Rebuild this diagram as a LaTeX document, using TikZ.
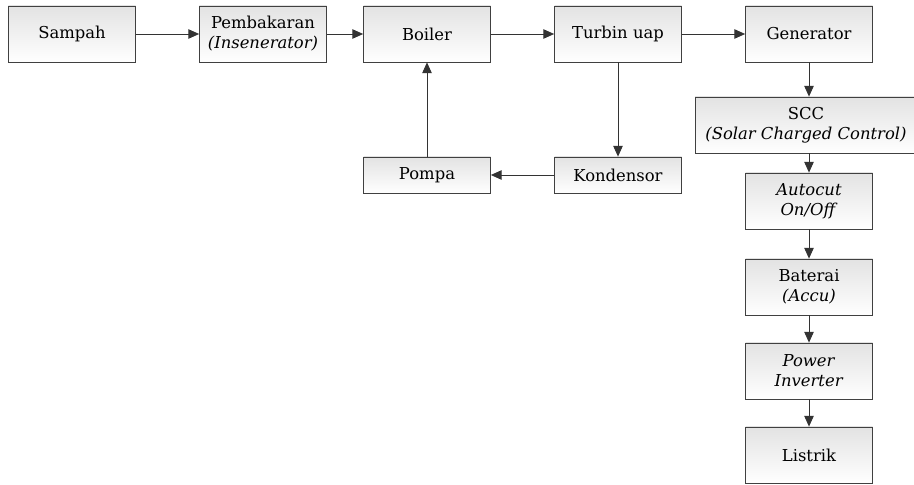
\documentclass[tikz,border=0pt]{standalone}
\usepackage{fontspec}
\setmainfont{DejaVu Serif}
\usetikzlibrary{arrows.meta, shadows}

\begin{document}
\begin{tikzpicture}[x = 0.03cm, y = -0.03cm,
	blok/.style = {draw=black!75, line width=0.6pt, top color=gray!22,
	bottom color=white, minimum width=3.81cm, minimum height=1.68cm,
	align=center, inner sep=1pt, font=\fontsize{14}{17}\selectfont,
	drop shadow={shadow xshift=0.7pt, shadow yshift=-0.7pt, opacity=0.6}},
	pendek/.style = {blok, minimum height=1.08cm},
	panah/.style = {draw=black!80, line width=0.8pt,
	-{Triangle[length=3.2mm, width=2.8mm]}}]

	\useasboundingbox (0,0) rectangle (914,485);

	% baris atas
	\node[blok] (sampah) at (72,34) {Sampah};
	\node[blok] (bakar) at (263,34) {Pembakaran\\\textit{(Insenerator)}};
	\node[blok] (boiler) at (427,34) {Boiler};
	\node[blok] (turbin) at (618,34) {Turbin uap};
	\node[blok] (generator) at (809,34) {Generator};

	% siklus air
	\node[pendek] (kondensor) at (618,175) {Kondensor};
	\node[pendek] (pompa) at (427,175) {Pompa};

	% kolom kanan
	\node[blok, minimum width=6.66cm] (scc) at (806,125)
	{SCC\\\textit{(Solar Charged Control)}};
	\node[blok] (autocut) at (809,201) {\textit{Autocut}\\\textit{On/Off}};
	\node[blok] (baterai) at (809,287) {Baterai\\\textit{(Accu)}};
	\node[blok] (inverter) at (809,371) {\textit{Power}\\\textit{Inverter}};
	\node[blok] (listrik) at (809,455) {Listrik};

	\draw[panah] (sampah) -- (bakar);
	\draw[panah] (bakar) -- (boiler);
	\draw[panah] (boiler) -- (turbin);
	\draw[panah] (turbin) -- (generator);
	\draw[panah] (turbin) -- (kondensor);
	\draw[panah] (kondensor) -- (pompa);
	\draw[panah] (pompa) -- (boiler);
	\draw[panah] (generator.south) -- (generator.south |- scc.north);
	\draw[panah] (autocut.north |- scc.south) -- (autocut.north);
	\draw[panah] (autocut) -- (baterai);
	\draw[panah] (baterai) -- (inverter);
	\draw[panah] (inverter) -- (listrik);

\end{tikzpicture}
\end{document}
